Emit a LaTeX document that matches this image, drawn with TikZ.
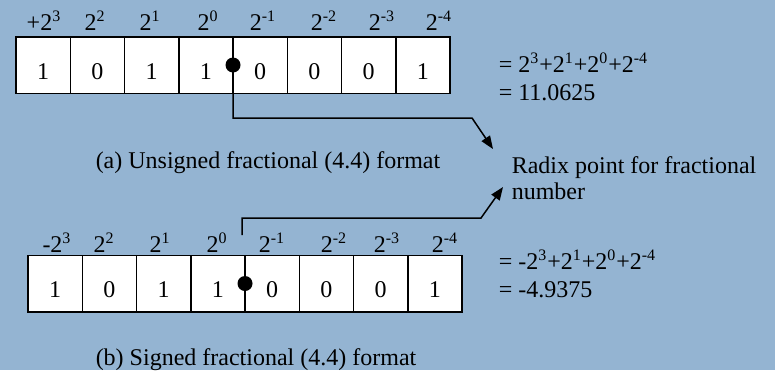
\documentclass[tikz,border=0pt]{standalone}
\usepackage{fontspec}
\setmainfont{Liberation Serif}
\usepackage{xcolor}
\usetikzlibrary{positioning,arrows.meta}

\definecolor{panelblue}{RGB}{148,180,210}
\tikzset{
  bitcell/.style={draw, fill=white, minimum width=27.125pt, minimum height=28.25pt,
    inner sep=0pt, outer sep=0pt, text height=14pt, text depth=0pt},
  radixdot/.style={circle, fill=black, inner sep=0pt, minimum size=7.5pt},
  weight/.style={anchor=base, inner sep=0pt},
  pointer/.style={-{Triangle[length=6.5pt,width=5pt]}},
}

\begin{document}
\begin{tikzpicture}[x=0.5pt, y=-0.5pt, font=\fontsize{12}{14}\selectfont, line width=0.75pt]
  \fill[panelblue] (0,0) rectangle (775,370);
  \useasboundingbox (0,0) rectangle (775,370);
  % (a) unsigned word, radix point after the fourth bit
  \foreach \bit/\wt/\wx [count=\i] in {1/{+2\textsuperscript{3}}/44, 0/{2\textsuperscript{2}}/95,
      1/{2\textsuperscript{1}}/150, 1/{2\textsuperscript{0}}/208, 0/{2\textsuperscript{-1}}/263,
      0/{2\textsuperscript{-2}}/324, 0/{2\textsuperscript{-3}}/382, 1/{2\textsuperscript{-4}}/439}{
    \node[bitcell] (a\i) at ({16+54.25*(\i-0.5)},65) {\bit};
    \node[weight] (wa\i) at (\wx,30) {\wt};
  }
  \node[radixdot] (dota) at (a4.east) {};
  % base of a two-line node sits on its last line
  \node[anchor=base west, align=left, inner sep=0pt] (eqa) at (498,100)
    {= 2\textsuperscript{3}+2\textsuperscript{1}+2\textsuperscript{0}+2\textsuperscript{-4}\\= 11.0625};
  \node[anchor=base west, inner sep=0pt] (capa) at (95,168) {(a) Unsigned fractional (4.4) format};
  % (b) signed word
  \foreach \bit/\wt/\wx [count=\i] in {1/{-2\textsuperscript{3}}/57, 0/{2\textsuperscript{2}}/104,
      1/{2\textsuperscript{1}}/160, 1/{2\textsuperscript{0}}/217, 0/{2\textsuperscript{-1}}/272,
      0/{2\textsuperscript{-2}}/334, 0/{2\textsuperscript{-3}}/387, 1/{2\textsuperscript{-4}}/445}{
    \node[bitcell] (b\i) at ({28+54.25*(\i-0.5)},283.5) {\bit};
    \node[weight] (wb\i) at (\wx,252) {\wt};
  }
  \node[radixdot] (dotb) at (b4.east) {};
  \node[anchor=base west, align=left, inner sep=0pt] (eqb) at (498,297)
    {= -2\textsuperscript{3}+2\textsuperscript{1}+2\textsuperscript{0}+2\textsuperscript{-4}\\= -4.9375};
  \node[anchor=base west, inner sep=0pt] (capb) at (95,365) {(b) Signed fractional (4.4) format};
  % shared callout for the radix point
  \node[anchor=base west, align=left, inner sep=0pt, font=\fontsize{12}{13}\selectfont] (radix) at (511,199)
    {Radix point for fractional\\number};
  \coordinate (kneea) at (472,118);
  \coordinate (tipa) at (493,149);
  \coordinate (stubb) at (242,235);
  \coordinate (kneeb) at (481,218);
  \coordinate (tipb) at (503,187);
  \draw[pointer] (a4.south east) |- (kneea) -- (tipa);
  \draw[pointer] (stubb) |- (kneeb) -- (tipb);
\end{tikzpicture}
\end{document}
